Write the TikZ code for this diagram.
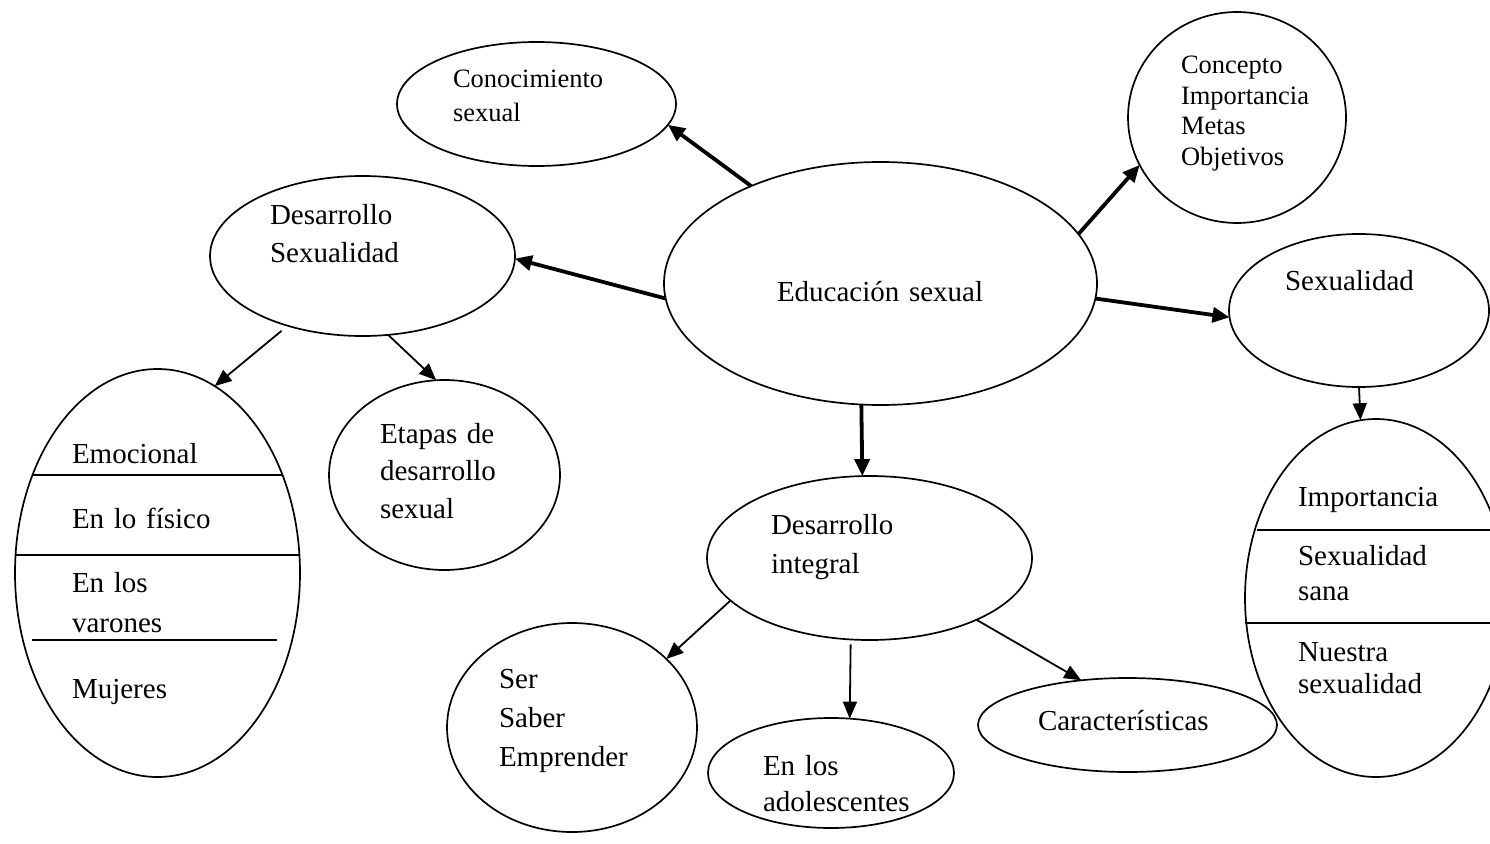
\documentclass[tikz,border=0pt]{standalone}
\usepackage{fontspec}
\setmainfont{Liberation Serif}
\usetikzlibrary{shapes.geometric,arrows.meta}
\begin{document}
\begin{tikzpicture}[x=1pt,y=-1pt,
  ell/.style={draw,ellipse,line width=1.7pt,inner sep=0pt,outer sep=0pt},
  big/.style={font={\fontsize{29}{38}\selectfont}},
  small/.style={font={\fontsize{26.5}{30.5}\selectfont}},
  txt/.style={anchor=base west,inner sep=0pt,outer sep=0pt,align=left,text width=400pt},
  thickarr/.style={line width=3.8pt,-{Triangle[length=17pt,width=15pt]}},
  thinarr/.style={line width=1.8pt,-{Triangle[length=17pt,width=14pt]}},
  divider/.style={line width=2pt}]
\useasboundingbox (0,0) rectangle (1490,843);

% ellipses
\node[ell,minimum width=279pt,minimum height=124pt] (con) at (536.5,104) {};
\node[ell,minimum width=218pt,minimum height=211pt] (cpt) at (1237,117.5) {};
\node[ell,minimum width=305pt,minimum height=160pt] (ds) at (362.5,256) {};
\node[ell,minimum width=433pt,minimum height=243pt] (edu) at (880.5,283.5) {};
\node[ell,minimum width=260pt,minimum height=153pt] (sex) at (1359,310.5) {};
\node[ell,minimum width=285pt,minimum height=408pt] (lft) at (157.5,573) {};
\node[ell,minimum width=231pt,minimum height=190pt] (etp) at (444.5,475) {};
\node[ell,minimum width=262pt,minimum height=358pt] (rel) at (1376,598) {};
\node[ell,minimum width=325pt,minimum height=164pt] (dint) at (869.5,558) {};
\node[ell,minimum width=250pt,minimum height=209pt] (ser) at (572,727.5) {};
\node[ell,minimum width=246pt,minimum height=110pt] (ado) at (831,773) {};
\node[ell,minimum width=299pt,minimum height=94pt] (car) at (1127.5,725) {};

% dividers
\draw[divider] (33,475) -- (282,475);
\draw[divider] (15,555) -- (299,555);
\draw[divider] (32,640) -- (277,640);
\draw[divider] (1257,530) -- (1490,530);
\draw[divider] (1245,623) -- (1490,623);

% texts
\node[txt,font={\fontsize{26.5}{34}\selectfont}] (tcon) at (453,87) {Conocimiento\\sexual};
\node[txt,small] (tcpt) at (1181,74) {Concepto\\Importancia\\Metas\\Objetivos};
\node[txt,big] (tds) at (270,224) {Desarrollo\\Sexualidad};
\node[txt,big] (tedu) at (777,301) {Educación sexual};
\node[txt,big] (tsex) at (1285,290) {Sexualidad};
\node[txt,big] (t1) at (72,463) {Emocional};
\node[txt,big] (t2) at (72,528) {En lo físico};
\node[txt,font={\fontsize{29}{40}\selectfont}] (t3) at (72,592) {En los\\varones};
\node[txt,big] (t4) at (72,698) {Mujeres};
\node[txt,font={\fontsize{29}{37.5}\selectfont}] (tetp) at (380,443) {Etapas de\\desarrollo\\sexual};
\node[txt,big] (r1) at (1298,506) {Importancia};
\node[txt,font={\fontsize{29}{35}\selectfont}] (r2) at (1298,565) {Sexualidad\\sana};
\node[txt,font={\fontsize{29}{32}\selectfont}] (r3) at (1298,661) {Nuestra\\sexualidad};
\node[txt,font={\fontsize{29}{39}\selectfont}] (tdint) at (771,534) {Desarrollo\\integral};
\node[txt,font={\fontsize{29}{39}\selectfont}] (tser) at (499,688) {Ser\\Saber\\Emprender};
\node[txt,font={\fontsize{29}{36}\selectfont}] (tado) at (763,775) {En los\\adolescentes};
\node[txt,big] (tcar) at (1038,730) {Características};

% thick connectors
\draw[thickarr] (edu.143.5) -- (con.-9.1);
\draw[thickarr] (edu.14.5) -- (cpt.206.3);
\draw[thickarr] (edu.184.4) -- (ds.-1.5);
\draw[thickarr] (edu.-4.9) -- (sex.183.1);
\draw[thickarr] (edu.261.3) -- (dint.95.2);

% thin connectors
\draw[thinarr,shorten <=8pt] (ds.223) -- (lft.73.5);
\draw[thinarr] (ds.-72.5) -- (etp.95.7);
\draw[thinarr] (sex.south) -- (rel.95.1);
\draw[thinarr] (dint.197.9) -- (ser.36.9);
\draw[thinarr,shorten <=5pt] (dint.257.4) -- (ado.71);
\draw[thinarr] (dint.-30.1) -- (car.136);
\end{tikzpicture}
\end{document}
